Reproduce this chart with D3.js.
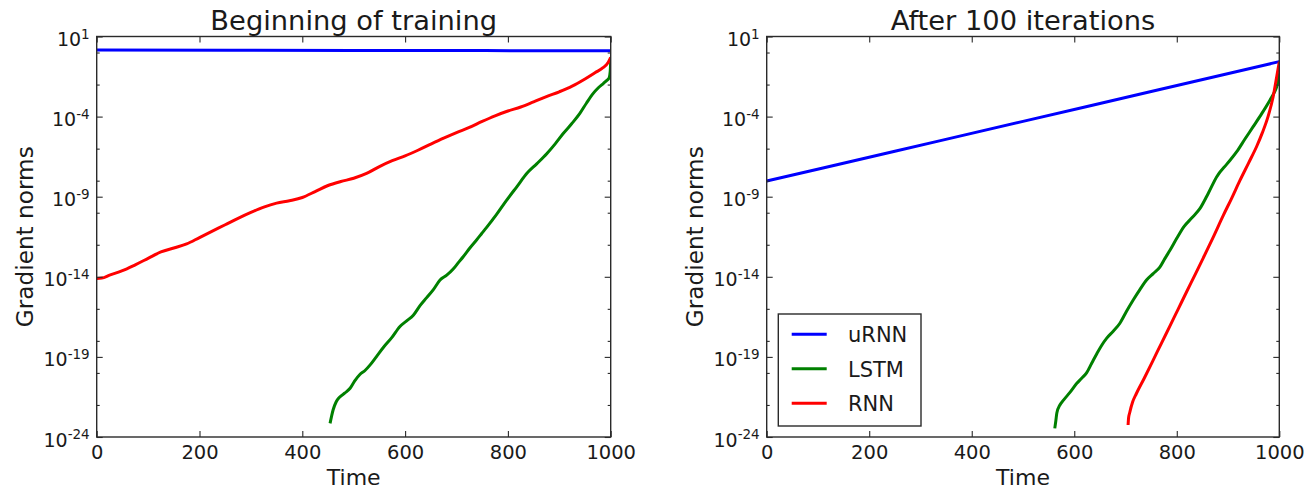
<!DOCTYPE html>
<html>
<head>
<meta charset="utf-8">
<script src="https://cdn.jsdelivr.net/npm/d3@7"></script>
<style>
  html, body { margin: 0; padding: 0; background: #fff; }
  svg { display: block; }
  text { font-family: "DejaVu Sans", sans-serif; fill: #1a1a1a; }
</style>
</head>
<body>
<svg id="chart" width="1306" height="490"></svg>
<script>
// ---------------- data (y values are log10 of the gradient norm) ----------------
const panelTitles = ["Beginning of training", "After 100 iterations"];
const seriesNames = ["uRNN", "LSTM", "RNN"];
const seriesColors = ["#0000ff", "#008000", "#ff0000"];
const xTicks = [0, 200, 400, 600, 800, 1000];
const yMajorExps = [1, -4, -9, -14, -19, -24];
const yMinorExps = [0, -2, -6, -8, -10, -12, -16, -18, -20, -22];

// Left panel: beginning of training
const leftUrnnT   = [0, 500, 1000];
const leftUrnnLog = [0.16, 0.13, 0.11];

const leftLstmT   = [454, 457, 460, 466, 473, 483, 493, 502, 512, 522, 532, 545, 558, 574, 590, 603, 616, 629, 642, 655, 668, 681, 694, 704, 713, 726, 739, 749, 759, 778, 798, 818, 837, 856, 876, 892, 908, 924, 940, 953, 966, 976, 986, 992, 997, 999, 1000];
const leftLstmLog = [-23.15, -22.7, -22.3, -21.8, -21.5, -21.25, -20.96, -20.5, -20.1, -19.85, -19.5, -18.95, -18.4, -17.8, -17.1, -16.75, -16.4, -15.8, -15.3, -14.8, -14.2, -13.9, -13.5, -13.1, -12.75, -12.2, -11.7, -11.3, -10.9, -10.1, -9.2, -8.35, -7.54, -6.95, -6.3, -5.7, -5.04, -4.45, -3.8, -3.15, -2.55, -2.2, -1.92, -1.75, -1.58, -1.2, -0.55];

const leftRnnT   = [0, 10, 25, 50, 75, 100, 125, 150, 175, 200, 225, 250, 275, 300, 325, 350, 375, 400, 425, 450, 475, 500, 525, 550, 575, 600, 625, 650, 675, 700, 725, 750, 775, 800, 825, 850, 875, 900, 925, 950, 970, 985, 995, 1000];
const leftRnnLog = [-14.1, -14.08, -13.9, -13.62, -13.25, -12.85, -12.45, -12.2, -11.95, -11.55, -11.15, -10.75, -10.35, -9.98, -9.65, -9.4, -9.25, -9.05, -8.68, -8.3, -8.05, -7.85, -7.55, -7.12, -6.75, -6.45, -6.1, -5.72, -5.35, -5.0, -4.68, -4.3, -3.95, -3.65, -3.4, -3.08, -2.75, -2.45, -2.1, -1.65, -1.25, -0.95, -0.62, -0.3];

// Right panel: after 100 iterations
const rightUrnnT   = [0, 250, 500, 750, 1000];
const rightUrnnLog = [-8.02, -6.16, -4.3, -2.43, -0.57];

const rightLstmT   = [562, 564, 566, 572, 579, 592, 605, 614, 624, 634, 644, 653, 663, 676, 689, 702, 715, 728, 741, 754, 767, 777, 787, 800, 814, 830, 845, 862, 878, 898, 917, 933, 949, 966, 982, 990, 995, 1000];
const rightLstmLog = [-23.46, -23.0, -22.5, -22.0, -21.7, -21.2, -20.65, -20.35, -20.0, -19.4, -18.8, -18.3, -17.84, -17.4, -16.9, -16.15, -15.45, -14.8, -14.2, -13.8, -13.4, -12.85, -12.33, -11.6, -10.87, -10.3, -9.75, -8.75, -7.75, -6.95, -6.19, -5.4, -4.63, -3.8, -2.96, -2.5, -2.13, -1.3];

const rightRnnT   = [705, 706, 708, 714, 721, 737, 754, 770, 787, 803, 819, 836, 852, 870, 891, 907, 923, 940, 956, 967, 978, 988, 995, 1000];
const rightRnnLog = [-23.25, -22.8, -22.5, -21.8, -21.3, -20.3, -19.2, -18.15, -17.05, -16.0, -14.95, -13.85, -12.8, -11.6, -10.15, -9.1, -8.0, -6.9, -5.85, -5.0, -4.0, -2.76, -1.5, -0.57];

// ---------------- layout ----------------
const svg = d3.select("#chart");
const plotTop = 36.5, plotBottom = 437;
const panels = [
  { left: 96.7, right: 610.7, title: panelTitles[0],
    series: [[leftUrnnT, leftUrnnLog], [leftLstmT, leftLstmLog], [leftRnnT, leftRnnLog]], legend: false },
  { left: 766.7, right: 1279.3, title: panelTitles[1],
    series: [[rightUrnnT, rightUrnnLog], [rightLstmT, rightLstmLog], [rightRnnT, rightRnnLog]], legend: true }
];

const frameColor = "#2a2a2a";

panels.forEach(p => {
  const x = d3.scaleLinear().domain([0, 1000]).range([p.left, p.right]);
  const y = d3.scaleLog().domain([1e-24, 10]).range([plotBottom, plotTop]);
  const g = svg.append("g");

  const clipId = "clip" + Math.round(p.left);
  svg.append("clipPath").attr("id", clipId).append("rect")
    .attr("x", p.left).attr("y", plotTop).attr("width", p.right - p.left).attr("height", plotBottom - plotTop);

  const line = d3.line()
    .curve(d3.curveMonotoneX)
    .x(d => x(d[0])).y(d => y(Math.pow(10, d[1])));
  p.series.forEach((s, i) => {
    const pts = s[0].map((t, k) => [t, s[1][k]]);
    g.append("path").datum(pts)
      .attr("clip-path", `url(#${clipId})`)
      .attr("d", line)
      .attr("fill", "none")
      .attr("stroke", seriesColors[i])
      .attr("stroke-width", 3)
      .attr("stroke-linejoin", "round")
      .attr("stroke-linecap", "butt");
  });

  const majorY = yMajorExps.map(e => Math.pow(10, e));
  const minorY = yMinorExps.map(e => Math.pow(10, e));

  const xb = g.append("g").attr("transform", `translate(0,${plotBottom})`)
    .call(d3.axisBottom(x).tickValues(xTicks).tickFormat(d3.format("d")).tickSizeInner(-6).tickSizeOuter(0).tickPadding(8.5));
  const xt = g.append("g").attr("transform", `translate(0,${plotTop})`)
    .call(d3.axisTop(x).tickValues(xTicks).tickFormat("").tickSizeInner(-6).tickSizeOuter(0));
  const yl = g.append("g").attr("transform", `translate(${p.left},0)`)
    .call(d3.axisLeft(y).tickValues(majorY).tickFormat("").tickSizeInner(-6).tickSizeOuter(0));
  const ylm = g.append("g").attr("transform", `translate(${p.left},0)`)
    .call(d3.axisLeft(y).tickValues(minorY).tickFormat("").tickSizeInner(-3).tickSizeOuter(0));
  const yr = g.append("g").attr("transform", `translate(${p.right},0)`)
    .call(d3.axisRight(y).tickValues(majorY).tickFormat("").tickSizeInner(-6).tickSizeOuter(0));
  const yrm = g.append("g").attr("transform", `translate(${p.right},0)`)
    .call(d3.axisRight(y).tickValues(minorY).tickFormat("").tickSizeInner(-3).tickSizeOuter(0));

  [xb, xt, yl, ylm, yr, yrm].forEach(a => {
    a.select(".domain").remove();
    a.selectAll(".tick line").attr("stroke", frameColor).attr("stroke-width", 1.1);
  });
  xb.selectAll(".tick text")
    .style("font-family", '"DejaVu Sans", sans-serif')
    .style("font-size", "19.5px").attr("fill", "#1a1a1a");

  const yLab = g.append("g");
  yMajorExps.forEach(e => {
    const t = yLab.append("text")
      .attr("x", p.left - 7)
      .attr("y", y(Math.pow(10, e)) + 9.5)
      .attr("text-anchor", "end")
      .style("font-size", "19px");
    t.append("tspan").text("10");
    t.append("tspan").attr("dy", -7.5).style("font-size", "13.5px").text(e < 0 ? "-" + Math.abs(e) : String(e));
  });

  g.append("rect")
    .attr("x", p.left).attr("y", plotTop)
    .attr("width", p.right - p.left).attr("height", plotBottom - plotTop)
    .attr("fill", "none").attr("stroke", frameColor).attr("stroke-width", 1.4);

  g.append("text")
    .attr("x", (p.left + p.right) / 2).attr("y", 29.5)
    .attr("text-anchor", "middle")
    .style("font-size", "27.3px")
    .text(p.title);

  g.append("text")
    .attr("x", (p.left + p.right) / 2).attr("y", 485)
    .attr("text-anchor", "middle")
    .style("font-size", "22px")
    .text("Time");
  const ylx = p.left - 64;
  g.append("text")
    .attr("transform", `translate(${ylx},${(plotTop + plotBottom) / 2}) rotate(-90)`)
    .attr("text-anchor", "middle")
    .style("font-size", "23.2px")
    .text("Gradient norms");

  if (p.legend) {
    const lg = g.append("g");
    lg.append("rect")
      .attr("x", 778.3).attr("y", 314).attr("width", 142.7).attr("height", 112)
      .attr("fill", "#fff").attr("stroke", frameColor).attr("stroke-width", 1.4);
    seriesNames.forEach((name, i) => {
      const yy = 334.3 + i * 34.5;
      lg.append("line")
        .attr("x1", 791.7).attr("x2", 826.7).attr("y1", yy).attr("y2", yy)
        .attr("stroke", seriesColors[i]).attr("stroke-width", 3);
      lg.append("text")
        .attr("x", 848).attr("y", yy + 7.8)
        .style("font-size", "21px")
        .text(name);
    });
  }
});
</script>
</body>
</html>
